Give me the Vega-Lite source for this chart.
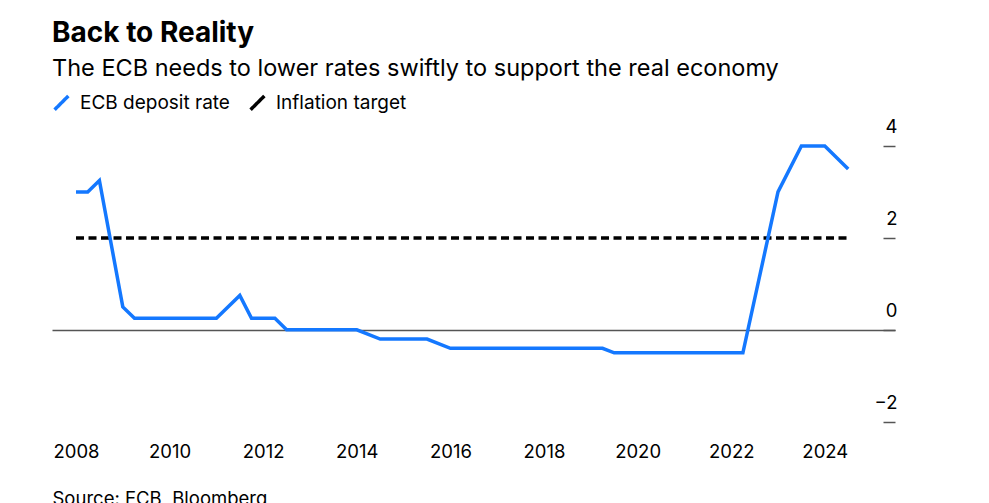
{
  "$schema": "https://vega.github.io/schema/vega-lite/v6.json",
  "width": 843,
  "height": 308,
  "padding": {"left": 52, "top": 19, "right": 0, "bottom": 0},
  "background": "white",
  "title": {
    "text": "Back to Reality",
    "subtitle": "The ECB needs to lower rates swiftly to support the real economy",
    "anchor": "start",
    "fontSize": 28,
    "fontWeight": "bold",
    "font": "Inter",
    "color": "#000000",
    "subtitleFont": "Inter",
    "subtitleFontSize": 23.5,
    "subtitleColor": "#000000",
    "subtitlePadding": 9,
    "offset": 13
  },
  "datasets": {
    "rates": [
      {"year": 2008.0, "value": 3.0, "series": "ECB deposit rate"},
      {"year": 2008.25, "value": 3.0, "series": "ECB deposit rate"},
      {"year": 2008.5, "value": 3.25, "series": "ECB deposit rate"},
      {"year": 2009.0, "value": 0.5, "series": "ECB deposit rate"},
      {"year": 2009.25, "value": 0.25, "series": "ECB deposit rate"},
      {"year": 2011.0, "value": 0.25, "series": "ECB deposit rate"},
      {"year": 2011.5, "value": 0.75, "series": "ECB deposit rate"},
      {"year": 2011.75, "value": 0.25, "series": "ECB deposit rate"},
      {"year": 2012.25, "value": 0.25, "series": "ECB deposit rate"},
      {"year": 2012.5, "value": 0.0, "series": "ECB deposit rate"},
      {"year": 2014.0, "value": 0.0, "series": "ECB deposit rate"},
      {"year": 2014.5, "value": -0.2, "series": "ECB deposit rate"},
      {"year": 2015.5, "value": -0.2, "series": "ECB deposit rate"},
      {"year": 2016.0, "value": -0.4, "series": "ECB deposit rate"},
      {"year": 2019.25, "value": -0.4, "series": "ECB deposit rate"},
      {"year": 2019.5, "value": -0.5, "series": "ECB deposit rate"},
      {"year": 2022.25, "value": -0.5, "series": "ECB deposit rate"},
      {"year": 2023.0, "value": 3.0, "series": "ECB deposit rate"},
      {"year": 2023.5, "value": 4.0, "series": "ECB deposit rate"},
      {"year": 2024.0, "value": 4.0, "series": "ECB deposit rate"},
      {"year": 2024.5, "value": 3.5, "series": "ECB deposit rate"},
      {"year": 2008.0, "value": 2.0, "series": "Inflation target"},
      {"year": 2024.5, "value": 2.0, "series": "Inflation target"}
    ]
  },
  "encoding": {
    "x": {
      "field": "year",
      "type": "quantitative",
      "scale": {"domain": [2007.487, 2025.5], "nice": false, "zero": false},
      "axis": {
        "values": [2008, 2010, 2012, 2014, 2016, 2018, 2020, 2022, 2024],
        "format": "d",
        "domain": false,
        "ticks": false,
        "grid": false,
        "labelFont": "Inter",
        "labelFontSize": 18.5,
        "labelColor": "#000000",
        "labelPadding": 11,
        "title": "Source: ECB, Bloomberg",
        "titleFont": "Inter",
        "titleFontSize": 18.5,
        "titleFontWeight": "normal",
        "titleColor": "#000000",
        "titleAnchor": "start",
        "titleAlign": "left",
        "titlePadding": 29
      }
    },
    "y": {
      "field": "value",
      "type": "quantitative",
      "scale": {"domain": [-2.2, 4.5], "nice": false},
      "axis": {
        "orient": "right",
        "values": [-2, 0, 2, 4],
        "domain": false,
        "grid": true,
        "gridColor": "#555555",
        "gridWidth": 1.5,
        "gridOpacity": {
          "condition": {"test": "datum.value === 0", "value": 1},
          "value": 0
        },
        "tickSize": -12,
        "tickColor": "#555555",
        "tickWidth": 1.5,
        "labelAlign": "right",
        "labelBaseline": "alphabetic",
        "labelOffset": -13,
        "labelPadding": 14,
        "labelFont": "Inter",
        "labelFontSize": 18.5,
        "labelColor": "#000000",
        "title": null
      }
    }
  },
  "layer": [
    {
      "data": {"name": "rates"},
      "transform": [{"filter": "datum.series === 'Inflation target'"}],
      "mark": {"type": "line", "strokeWidth": 3.5, "strokeDash": [8, 4.5]},
      "encoding": {
        "color": {
          "field": "series",
          "type": "nominal",
          "scale": {
            "domain": ["ECB deposit rate", "Inflation target"],
            "range": ["#1478ff", "#000000"]
          },
          "legend": {
            "orient": "top",
            "direction": "horizontal",
            "title": null,
            "symbolType": "M-1,1L1,-1",
            "symbolStrokeWidth": 3.5,
            "symbolSize": 190,
            "symbolDash": [1, 0],
            "labelFont": "Inter",
            "labelFontSize": 19,
            "labelColor": "#000000",
            "labelOffset": 9,
            "columnPadding": 13,
            "offset": 6
          }
        }
      }
    },
    {
      "data": {"name": "rates"},
      "transform": [{"filter": "datum.series === 'ECB deposit rate'"}],
      "mark": {"type": "line", "strokeWidth": 3.5, "strokeJoin": "miter"},
      "encoding": {
        "color": {
          "field": "series",
          "type": "nominal",
          "scale": {
            "domain": ["ECB deposit rate", "Inflation target"],
            "range": ["#1478ff", "#000000"]
          }
        }
      }
    }
  ],
  "config": {
    "view": {"stroke": null},
    "font": "Inter"
  }
}
